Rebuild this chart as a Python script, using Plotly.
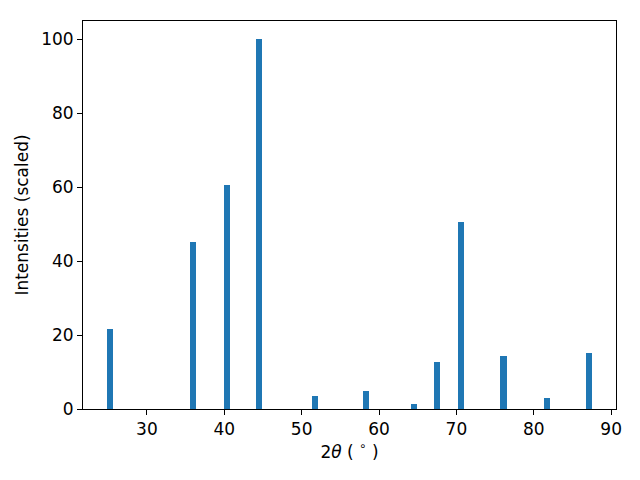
import plotly.graph_objects as go

two_theta = [25.27, 35.97, 40.4, 44.47, 51.7, 58.34, 64.5, 67.5, 70.6, 76.1, 81.7, 87.1]
intensity = [21.7, 45.2, 60.7, 100.0, 3.5, 4.9, 1.4, 12.7, 50.7, 14.4, 3.0, 15.2]
x_ticks = [30, 40, 50, 60, 70, 80, 90]
y_ticks = [0, 20, 40, 60, 80, 100]

fig = go.Figure(go.Bar(x=two_theta, y=intensity, width=0.8, marker=dict(color="#1f77b4", line=dict(width=0))))

font = dict(family="DejaVu Sans", size=17, color="black")
fig.update_layout(
    width=640, height=480,
    margin=dict(l=83, r=24, t=21, b=71),
    plot_bgcolor="white", paper_bgcolor="white",
    font=font, showlegend=False, bargap=0,
)
fig.update_xaxes(
    range=[21.74, 90.63], tickvals=x_ticks, ticktext=[str(v) for v in x_ticks],
    showgrid=False, zeroline=False, showline=True, linecolor="black", linewidth=1, mirror=True,
    ticks="outside", ticklen=5, tickcolor="black",
    title=dict(text="2<i>θ</i> ( <sup>∘</sup> )", font=font, standoff=6),
)
fig.update_yaxes(
    range=[0, 105], tickvals=y_ticks, ticktext=[str(v) for v in y_ticks],
    showgrid=False, zeroline=False, showline=True, linecolor="black", linewidth=1, mirror=True,
    ticks="outside", ticklen=5, tickcolor="black",
    title=dict(text="Intensities (scaled)", font=font, standoff=8),
)
fig.write_html("out.html", config={"displayModeBar": False},
               post_script="document.body.style.margin='0';")
